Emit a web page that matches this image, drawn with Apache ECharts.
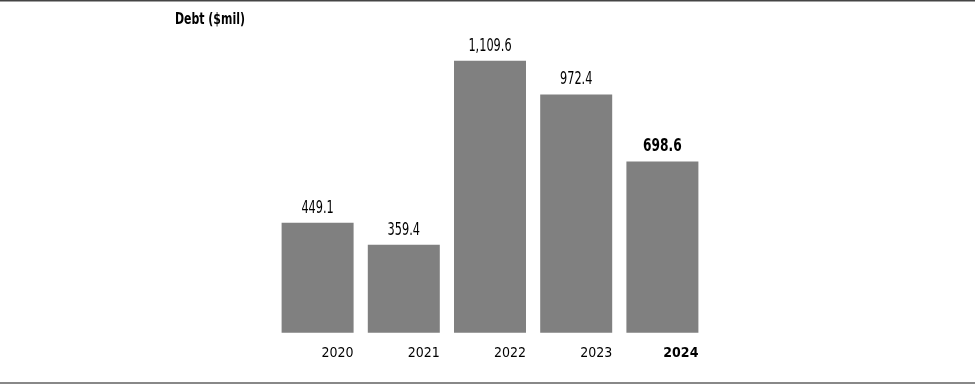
<!DOCTYPE html>
<html><head><meta charset="utf-8">
<script src="https://cdn.jsdelivr.net/npm/echarts@6/dist/echarts.min.js"></script>
<style>html,body{margin:0;padding:0;background:#fff}#c{width:975px;height:385px}</style>
</head><body><div id="c"></div>
<script>
const categories = ['2020', '2021', '2022', '2023', '2024'];
const debtValues = [449.1, 359.4, 1109.6, 972.4, 698.6];
const valueLabels = ['449.1', '359.4', '1,109.6', '972.4', '698.6'];
const titleText = 'Debt ($mil)';
const highlightIndex = 4;

const FONT = '"Liberation Sans Narrow", "DejaVu Sans Condensed", sans-serif';
const chart = echarts.init(document.getElementById('c'));
const baseGraphics = [
  {type: 'line', shape: {x1: 0, y1: 0.5, x2: 975, y2: 0.5}, style: {stroke: '#444', lineWidth: 2}},
  {type: 'line', shape: {x1: 0, y1: 383, x2: 975, y2: 383}, style: {stroke: '#888', lineWidth: 2}},
  {type: 'text', x: 175, y: 12, scaleX: 0.76,
   style: {text: titleText, x: 0, y: 0, font: 'bold 16px ' + FONT, fill: '#000', verticalAlign: 'top'}}
];
chart.setOption({
  animation: false,
  backgroundColor: '#fff',
  graphic: baseGraphics,
  grid: {left: 274.5, width: 431, top: 38.7, bottom: 52.3, containLabel: false},
  xAxis: {
    type: 'category', data: categories,
    axisLine: {show: false}, axisTick: {show: false},
    axisLabel: {
      margin: 14, align: 'center',
      formatter: (v, i) => i === highlightIndex ? '{b|' + v + '}' : '{n|' + v + '}',
      rich: {
        n: {width: 72, align: 'right', fontFamily: FONT, fontSize: 14, color: '#000'},
        b: {width: 72, align: 'right', fontFamily: FONT, fontSize: 14, fontWeight: 'bold', color: '#000'}
      }
    }
  },
  yAxis: {type: 'value', min: 0, max: 1200, show: false, splitLine: {show: false}},
  series: [{
    type: 'bar', barWidth: 72,
    data: debtValues,
    itemStyle: {color: '#808080'},
    label: {show: false}
  }]
});
// value labels placed through the chart's own scales (condensed via horizontal scaling)
const labelGraphics = debtValues.map((v, i) => {
  const p = chart.convertToPixel({seriesIndex: 0}, [i, v]);
  const bold = i === highlightIndex;
  return {
    type: 'text', x: p[0], y: p[1] - 6, scaleX: bold ? 0.8 : 0.74,
    style: {text: valueLabels[i], x: 0, y: 0, align: 'center', verticalAlign: 'bottom',
            font: (bold ? 'bold ' : '') + '17px ' + FONT, fill: '#000'}
  };
});
chart.setOption({graphic: baseGraphics.concat(labelGraphics)});
</script></body></html>
